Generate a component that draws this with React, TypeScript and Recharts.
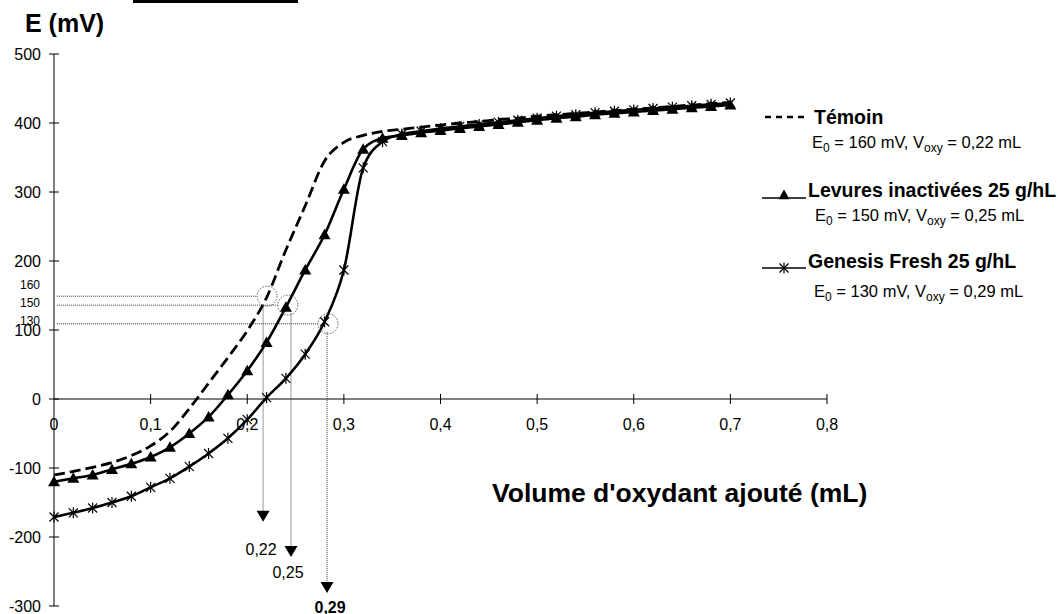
import React from "react";
import { LineChart, Line, XAxis, YAxis, ReferenceLine, ReferenceDot } from "recharts";

const FONT = "'Liberation Sans', Arial, Helvetica, sans-serif";

// volume d'oxydant ajouté (mL)
const volumes = [
  0, 0.02, 0.04, 0.06, 0.08, 0.1, 0.12, 0.14, 0.16, 0.18, 0.2, 0.22, 0.24, 0.26, 0.28, 0.3, 0.32, 0.34,
  0.36, 0.38, 0.4, 0.42, 0.44, 0.46, 0.48, 0.5, 0.52, 0.54, 0.56, 0.58, 0.6, 0.62, 0.64, 0.66, 0.68, 0.7,
];

// potentiel E (mV)
const temoin = [
  -110, -105, -99, -92, -82, -68, -47, -14, 23, 60, 99, 147, 216, 280, 345, 372, 382, 388,
  391, 394, 397, 400, 402, 405, 407, 410, 412, 414, 416, 418, 420, 422, 424, 426, 428, 430,
];
const levures = [
  -120, -115, -110, -102, -94, -84, -70, -50, -26, 6, 41, 82, 133, 187, 238, 304, 362, 378,
  382, 386, 389, 392, 395, 398, 401, 404, 407, 409, 412, 414, 416, 418, 420, 422, 424, 426,
];
const genesis = [
  -171, -165, -158, -150, -141, -128, -115, -98, -79, -57, -30, 2, 30, 65, 112, 187, 335, 373,
  384, 388, 392, 395, 398, 401, 404, 407, 410, 412, 415, 417, 419, 421, 423, 425, 427, 429,
];

const yTicks = [-300, -200, -100, 0, 100, 200, 300, 400, 500];
const xTicks = [0, 0.1, 0.2, 0.3, 0.4, 0.5, 0.6, 0.7, 0.8];

// lecture graphique de E0 et Voxy
const e0Labels = ["160", "150", "130"];
const e0LineLevels = [149, 136, 109];
const e0LabelLevels = [165, 139, 113];
const circleVolumes = [0.2205, 0.242, 0.2836];
const dropVolumes = [0.2164, 0.2453, 0.2826];
const arrowTips = [-178, -229, -281];
const voxyLabels = ["0,22", "0,25", "0,29"];
const voxyLabelVolumes = [0.2143, 0.2422, 0.2857];
const voxyLabelLevels = [-218, -251, -302];

const legendNames = ["Témoin", "Levures inactivées 25 g/hL", "Genesis Fresh 25 g/hL"];
const legendE0 = ["160", "150", "130"];
const legendVoxy = ["0,22", "0,25", "0,29"];

const data = volumes.map((v, i) => ({
  v,
  temoin: temoin[i],
  levures: levures[i],
  genesis: genesis[i],
}));

const fmt = (n: number) => String(n).replace(".", ",");

const Triangle = ({ cx, cy, size = 6 }: any) => (
  <path d={`M${cx},${cy - size} L${cx + size},${cy + size * 0.75} L${cx - size},${cy + size * 0.75} Z`} fill="#000" />
);

const Star = ({ cx, cy, s = 4.5 }: any) => (
  <g stroke="#000" strokeWidth={1.2}>
    <line x1={cx - s} y1={cy - s} x2={cx + s} y2={cy + s} />
    <line x1={cx - s} y1={cy + s} x2={cx + s} y2={cy - s} />
    <line x1={cx} y1={cy - s - 1} x2={cx} y2={cy + s + 1} />
  </g>
);

const triangleDot = (p: any) => <Triangle key={`t${p.index}`} cx={p.cx} cy={p.cy} />;
const starDot = (p: any) => <Star key={`s${p.index}`} cx={p.cx} cy={p.cy} />;

const YTick = ({ x, y, payload }: any) => (
  <g>
    <line x1={x - 5} x2={x + 5} y1={y} y2={y} stroke="#000" />
    <text x={x - 13} y={y} dy={5.5} textAnchor="end" fontSize={16} fontFamily={FONT} fill="#000">
      {payload.value}
    </text>
  </g>
);

export default function App() {
  return (
    <div style={{ position: "absolute", left: 0, top: 0, width: 1058, height: 614, background: "#fff", fontFamily: FONT }}>
      <LineChart width={1058} height={614} data={data} margin={{ top: 54, right: 231, bottom: 8, left: 0 }}>
        <XAxis type="number" dataKey="v" domain={[0, 0.8]} ticks={xTicks} hide />
        <YAxis
          width={54}
          domain={[-300, 500]}
          ticks={yTicks}
          interval={0}
          tickSize={0}
          tickMargin={0}
          tickLine={false}
          axisLine={{ stroke: "#000" }}
          tick={<YTick />}
        />

        {/* axe des abscisses à E = 0 */}
        <ReferenceLine y={0} stroke="#000" />
        {xTicks.map((t) => (
          <ReferenceDot
            key={`xt${t}`}
            x={t}
            y={0}
            ifOverflow="visible"
            shape={(p: any) => (
              <g>
                {t > 0 && <line x1={p.cx} x2={p.cx} y1={p.cy - 5} y2={p.cy + 5} stroke="#000" />}
                <text x={p.cx} y={p.cy + 31} textAnchor="middle" fontSize={16} fontFamily={FONT} fill="#000">
                  {fmt(t)}
                </text>
              </g>
            )}
          />
        ))}

        {/* pointillés de lecture E0 / Voxy */}
        {e0LineLevels.map((lvl, i) => (
          <ReferenceLine
            key={`h${i}`}
            segment={[
              { x: 0.003, y: lvl },
              { x: circleVolumes[i] - 0.0105, y: lvl },
            ]}
            stroke="#333"
            strokeDasharray="1 1"
          />
        ))}
        {dropVolumes.map((dv, i) => (
          <ReferenceLine
            key={`v${i}`}
            segment={[
              { x: dv, y: e0LineLevels[i] - 12 },
              { x: dv, y: arrowTips[i] + 14 },
            ]}
            stroke="#333"
            strokeDasharray="1 1"
          />
        ))}
        {circleVolumes.map((cv, i) => (
          <ReferenceDot
            key={`c${i}`}
            x={cv}
            y={e0LineLevels[i]}
            r={10}
            fill="none"
            stroke="#555"
            strokeDasharray="1.5 1.5"
          />
        ))}
        {arrowTips.map((tip, i) => (
          <ReferenceDot
            key={`a${i}`}
            x={dropVolumes[i]}
            y={tip}
            ifOverflow="visible"
            shape={(p: any) => (
              <path d={`M${p.cx},${p.cy} L${p.cx - 6.5},${p.cy - 11} L${p.cx + 6.5},${p.cy - 11} Z`} fill="#000" />
            )}
          />
        ))}
        {voxyLabels.map((lab, i) => (
          <ReferenceDot
            key={`vl${i}`}
            x={voxyLabelVolumes[i]}
            y={voxyLabelLevels[i]}
            ifOverflow="visible"
            shape={(p: any) => (
              <text
                x={p.cx}
                y={p.cy}
                dy={6}
                textAnchor="middle"
                fontSize={16}
                fontWeight={i === 2 ? "bold" : "normal"}
                fontFamily={FONT}
                fill="#000"
              >
                {lab}
              </text>
            )}
          />
        ))}
        {e0Labels.map((lab, i) => (
          <ReferenceDot
            key={`el${i}`}
            x={0}
            y={e0LabelLevels[i]}
            ifOverflow="visible"
            shape={(p: any) => (
              <text x={p.cx - 14} y={p.cy} dy={4} textAnchor="end" fontSize={12} fontFamily={FONT} fill="#000">
                {lab}
              </text>
            )}
          />
        ))}

        <Line
          type="monotone"
          dataKey="temoin"
          stroke="#000"
          strokeWidth={2.8}
          strokeDasharray="11 5"
          dot={false}
          isAnimationActive={false}
        />
        <Line
          type="monotone"
          dataKey="levures"
          stroke="#000"
          strokeWidth={2.6}
          dot={triangleDot}
          isAnimationActive={false}
        />
        <Line
          type="monotone"
          dataKey="genesis"
          stroke="#000"
          strokeWidth={2.6}
          dot={starDot}
          isAnimationActive={false}
        />
      </LineChart>

      <svg width={1058} height={614} style={{ position: "absolute", left: 0, top: 0, pointerEvents: "none" }}>
        <rect x={133} y={0} width={165} height={3} fill="#000" />
        <text x={25} y={32} fontSize={25} fontWeight="bold" fontFamily={FONT}>
          E (mV)
        </text>
        <text x={492} y={502} fontSize={26.5} fontWeight="bold" fontFamily={FONT}>
          Volume d'oxydant ajouté (mL)
        </text>

        {/* légende */}
        <line x1={765} x2={809} y1={117} y2={117} stroke="#000" strokeWidth={2.5} strokeDasharray="6 5" />
        <line x1={762} x2={806} y1={198} y2={198} stroke="#000" strokeWidth={1.3} />
        <Triangle cx={784} cy={195} size={5.5} />
        <line x1={762} x2={806} y1={268} y2={268} stroke="#000" strokeWidth={1.3} />
        <Star cx={784} cy={268} />
        {legendNames.map((name, i) => (
          <text
            key={name}
            x={i === 0 ? 814 : 808}
            y={[124, 197, 268][i]}
            fontSize={19.5}
            fontWeight="bold"
            fontFamily={FONT}
          >
            {name}
          </text>
        ))}
        {legendE0.map((e0, i) => (
          <text key={`sub${i}`} x={[812, 815, 814][i]} y={[148, 221, 297][i]} fontSize={16.5} fontFamily={FONT}>
            E<tspan fontSize={12} dy={4}>0</tspan>
            <tspan dy={-4}> = {e0} mV, V</tspan>
            <tspan fontSize={12} dy={4}>oxy</tspan>
            <tspan dy={-4}> = {legendVoxy[i]} mL</tspan>
          </text>
        ))}
      </svg>
    </div>
  );
}
